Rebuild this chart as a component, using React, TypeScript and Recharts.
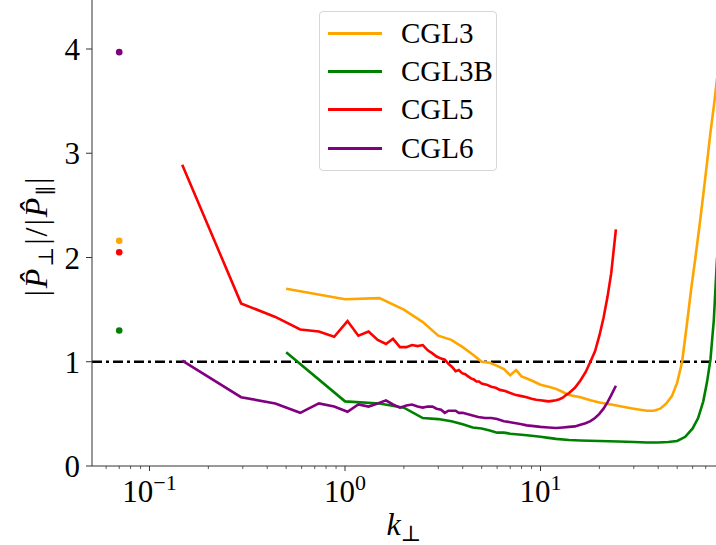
import {
  ComposedChart,
  Line,
  ReferenceLine,
  Scatter,
  XAxis,
  YAxis,
} from "recharts";

const FONT = "'Liberation Serif', 'DejaVu Serif', serif";

// series: CGL3, CGL3B, CGL5, CGL6
const seriesNames = ["CGL3", "CGL3B", "CGL5", "CGL6"];
const seriesColors = ["#ffa500", "#008000", "#ff0000", "#800080"];

const cgl3K = [
  0.5, 1, 1.5, 2, 2.5, 3, 3.5, 4, 4.5, 5, 5.5, 6, 6.5, 7, 7.5, 8, 8.5, 9, 10,
  11, 12, 13, 14, 16, 18, 20, 23, 26, 30, 35, 38, 41, 44, 47, 50, 53, 56, 59,
  62, 65, 68, 71, 74, 77, 80,
];
const cgl3V = [
  1.7, 1.6, 1.61, 1.5, 1.38, 1.25, 1.21, 1.14, 1.07, 1.0, 0.99, 0.96, 0.93,
  0.87, 0.92, 0.86, 0.84, 0.82, 0.78, 0.76, 0.74, 0.71, 0.68, 0.66, 0.63, 0.61,
  0.59, 0.57, 0.55, 0.53, 0.53, 0.55, 0.6, 0.67, 0.8, 1.0, 1.35, 1.7, 2.0, 2.3,
  2.6, 2.9, 3.2, 3.45, 3.72,
];

const cgl3bK = [
  0.5, 1, 1.5, 2, 2.5, 3, 3.5, 4, 4.5, 5, 5.5, 6, 6.5, 7, 8, 9, 10, 11, 12, 14,
  16, 20, 25, 30, 35, 40, 45, 50, 55, 60, 64, 68, 71, 74, 77, 80,
];
const cgl3bV = [
  1.09, 0.62, 0.6, 0.56, 0.46, 0.45, 0.43, 0.4, 0.37, 0.36, 0.34, 0.32, 0.32,
  0.31, 0.3, 0.29, 0.28, 0.27, 0.26, 0.25, 0.245, 0.24, 0.235, 0.23, 0.225,
  0.225, 0.23, 0.24, 0.28, 0.36, 0.46, 0.62, 0.8, 1.02, 1.4, 2.0,
];

const cgl5K = [
  0.147, 0.294, 0.44, 0.59, 0.735, 0.88, 1.03, 1.17, 1.32, 1.47, 1.62, 1.76,
  1.91, 2.06, 2.2, 2.35, 2.5, 2.65, 2.8, 2.94, 3.1, 3.24, 3.38, 3.53, 3.68,
  3.82, 3.97, 4.12, 4.26, 4.41, 4.56, 4.7, 4.85, 5.0, 5.3, 5.6, 5.9, 6.2, 6.6,
  7.0, 7.5, 8.0, 8.5, 9.0, 9.5, 10, 10.5, 11, 11.5, 12, 12.5, 13, 13.5, 14, 15,
  16, 17, 18, 19, 20, 21, 22, 23, 24.3,
];
const cgl5V = [
  2.89, 1.56, 1.43, 1.31, 1.29, 1.24, 1.39, 1.25, 1.29, 1.21, 1.17, 1.22, 1.14,
  1.14, 1.16, 1.15, 1.16, 1.11, 1.08, 1.05, 1.03, 1.02, 0.98, 0.95, 0.91, 0.92,
  0.89, 0.88, 0.86, 0.84, 0.83, 0.81, 0.81, 0.79, 0.78, 0.76, 0.75, 0.73, 0.72,
  0.7, 0.68, 0.67, 0.66, 0.645, 0.635, 0.63, 0.625, 0.62, 0.625, 0.63, 0.64,
  0.655, 0.68, 0.7, 0.75, 0.82, 0.9, 1.0, 1.1, 1.25, 1.42, 1.62, 1.85, 2.27,
];

const cgl6K = [
  0.147, 0.294, 0.44, 0.59, 0.735, 0.88, 1.03, 1.17, 1.32, 1.47, 1.62, 1.76,
  1.91, 2.06, 2.2, 2.35, 2.5, 2.65, 2.8, 2.94, 3.1, 3.24, 3.38, 3.53, 3.68,
  3.82, 4.0, 4.4, 4.8, 5.2, 5.6, 6.0, 6.5, 7.0, 7.5, 8, 8.5, 9, 10, 11, 12, 13,
  14, 15, 16, 17, 18, 19, 20, 21, 22, 23, 24.3,
];
const cgl6V = [
  1.01, 0.66, 0.6, 0.51, 0.6, 0.57, 0.52, 0.59, 0.57, 0.6, 0.63, 0.59, 0.56,
  0.58, 0.59, 0.57, 0.56, 0.57, 0.57, 0.55, 0.54, 0.51, 0.53, 0.53, 0.53, 0.51,
  0.51, 0.49, 0.47, 0.46, 0.46, 0.45, 0.43, 0.42, 0.41, 0.4, 0.39, 0.385,
  0.375, 0.37, 0.365, 0.37, 0.375, 0.38, 0.395, 0.41, 0.43, 0.46, 0.5, 0.55,
  0.61, 0.68, 0.77,
];

// single values at the smallest k (order: CGL3, CGL3B, CGL5, CGL6)
const pointK = 0.07;
const pointV = [2.16, 1.3, 2.05, 3.97];

const xMajorTicks = [0.1, 1, 10];
const xMinorTicks = [
  0.06, 0.07, 0.08, 0.09, 0.2, 0.3, 0.4, 0.5, 0.6, 0.7, 0.8, 0.9, 2, 3, 4, 5,
  6, 7, 8, 9, 20, 30, 40, 50, 60, 70,
];
const yTicks = [0, 1, 2, 3, 4];

const toRows = (k: number[], v: number[]) =>
  k.map((kk, i) => ({ k: kk, v: v[i] }));

const lineData = [
  toRows(cgl3K, cgl3V),
  toRows(cgl3bK, cgl3bV),
  toRows(cgl5K, cgl5V),
  toRows(cgl6K, cgl6V),
];

function XTick(props: any) {
  const { x, y, payload } = props;
  const value = payload.value as number;
  const exp = Math.round(Math.log10(value));
  const major = xMajorTicks.includes(value);
  return (
    <g>
      <line
        x1={x}
        x2={x}
        y1={y}
        y2={y + (major ? 5 : 3)}
        stroke="#333"
        strokeWidth={major ? 1 : 0.8}
      />
      {major && (
        <text
          x={x}
          y={y + 36}
          textAnchor="middle"
          fontSize={31}
          fontFamily={FONT}
          fill="#000"
        >
          10
          <tspan dy={-12} fontSize={22}>
            {exp < 0 ? `\u2212${-exp}` : String(exp)}
          </tspan>
        </text>
      )}
    </g>
  );
}

function YLabel() {
  return (
    <text
      transform="translate(47,236) rotate(-90)"
      textAnchor="middle"
      fontSize={32}
      fontFamily={FONT}
      fill="#000"
      letterSpacing={2}
    >
      |<tspan fontStyle="italic">P̂</tspan>
      <tspan fontSize={21} dy={6}>
        ⊥
      </tspan>
      <tspan dy={-6}>|/|</tspan>
      <tspan fontStyle="italic">P̂</tspan>
      <tspan fontSize={21} dy={6}>
        ∥
      </tspan>
      <tspan dy={-6}>|</tspan>
    </text>
  );
}

function XLabel() {
  return (
    <text
      x={404}
      y={535}
      textAnchor="middle"
      fontSize={32}
      fontFamily={FONT}
      fill="#000"
    >
      <tspan fontStyle="italic">k</tspan>
      <tspan fontSize={22} dy={6}>
        ⊥
      </tspan>
    </text>
  );
}

function ChartLegend() {
  return (
    <div
      style={{
        position: "absolute",
        left: 319,
        top: 11,
        width: 178,
        height: 160,
        border: "1px solid #d6d6d6",
        borderRadius: 4,
        background: "rgba(255,255,255,0.8)",
        fontFamily: FONT,
        fontSize: 29,
        boxSizing: "border-box",
        paddingTop: 2,
      }}
    >
      {seriesNames.map((name, i) => (
        <div
          key={name}
          style={{ display: "flex", alignItems: "center", height: 38.3 }}
        >
          <span
            style={{
              display: "inline-block",
              marginLeft: 8,
              width: 54,
              height: 3,
              background: seriesColors[i],
            }}
          />
          <span style={{ marginLeft: 19, lineHeight: 1 }}>{name}</span>
        </div>
      ))}
    </div>
  );
}

export default function App() {
  return (
    <div
      style={{
        position: "absolute",
        left: 0,
        top: 0,
        width: 716,
        height: 545,
        background: "#fff",
        overflow: "hidden",
      }}
    >
      <ComposedChart
        width={716}
        height={545}
        margin={{ top: 0, right: 0, bottom: 0, left: 0 }}
      >
        <XAxis
          dataKey="k"
          type="number"
          scale="log"
          domain={[0.0508, 79]}
          allowDataOverflow
          ticks={[...xMajorTicks, ...xMinorTicks]}
          interval={0}
          tick={<XTick />}
          tickLine={false}
          tickSize={0}
          tickMargin={0}
          height={79}
          stroke="#333"
          label={<XLabel />}
        />
        <YAxis
          type="number"
          domain={[0, 4.47]}
          allowDataOverflow
          ticks={yTicks}
          width={92}
          tickSize={6}
          tickMargin={6}
          stroke="#333"
          tick={{ fontSize: 31, fill: "#000", fontFamily: FONT }}
          label={<YLabel />}
        />
        <ReferenceLine
          y={1}
          stroke="#000"
          strokeWidth={2.4}
          strokeDasharray="10 4 3 4"
        />
        {lineData.map((rows, i) => (
          <Line
            key={seriesNames[i]}
            data={rows}
            dataKey="v"
            name={seriesNames[i]}
            type="linear"
            stroke={seriesColors[i]}
            strokeWidth={2.6}
            dot={false}
            isAnimationActive={false}
          />
        ))}
        {pointV.map((v, i) => (
          <Scatter
            key={`pt-${seriesNames[i]}`}
            data={[{ k: pointK, v }]}
            dataKey="v"
            fill={seriesColors[i]}
            isAnimationActive={false}
            shape={(p: any) => (
              <circle cx={p.cx} cy={p.cy} r={3.3} fill={seriesColors[i]} />
            )}
          />
        ))}
      </ComposedChart>
      <ChartLegend />
    </div>
  );
}
